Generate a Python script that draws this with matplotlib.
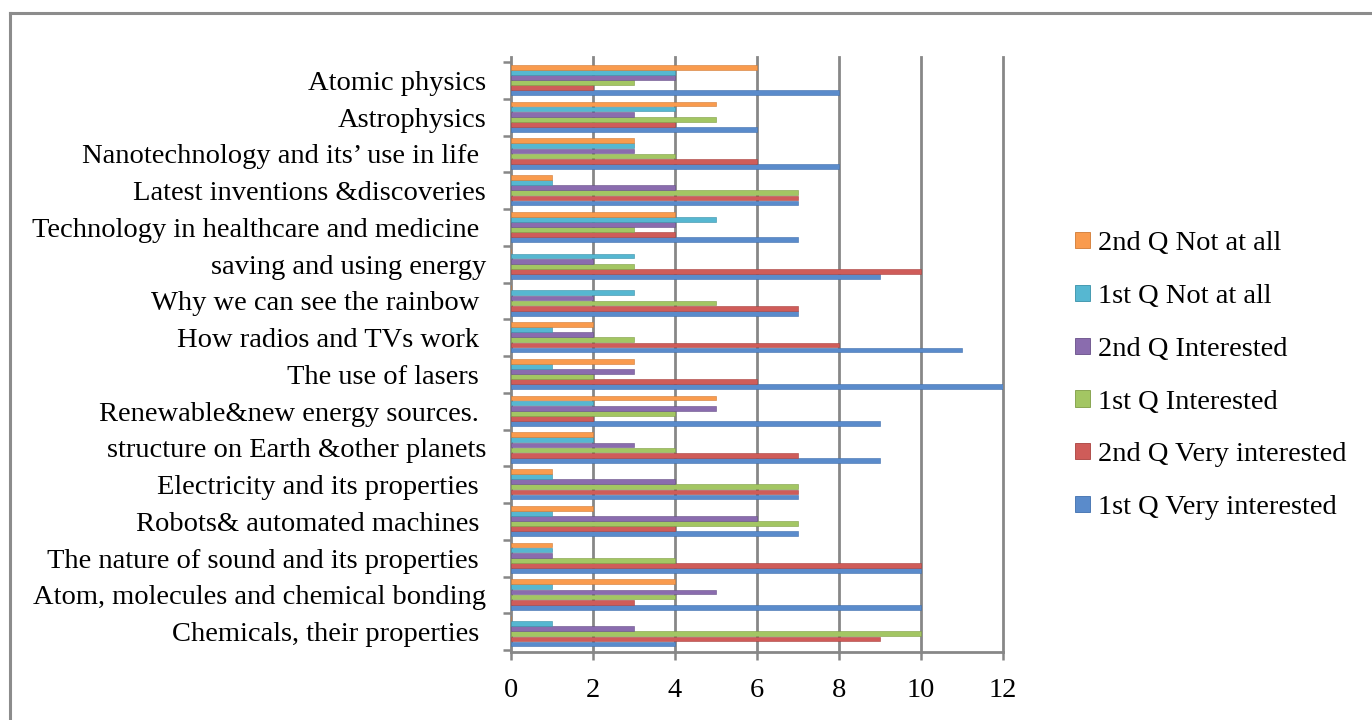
import matplotlib
matplotlib.use("Agg")
import matplotlib.pyplot as plt
import numpy as np
from matplotlib.lines import Line2D

# topics, bottom of the chart first
topics = [
    "Chemicals, their properties ",
    "Atom, molecules and chemical bonding",
    "The nature of sound and its properties ",
    "Robots& automated machines ",
    "Electricity and its properties ",
    "structure on Earth &other planets",
    "Renewable&new energy sources. ",
    "The use of lasers ",
    "How radios and TVs work ",
    "Why we can see the rainbow ",
    "saving and using energy",
    "Technology in healthcare and medicine ",
    "Latest inventions &discoveries",
    "Nanotechnology and its\u2019 use in life ",
    "Astrophysics",
    "Atomic physics",
]

q1_very = [4, 10, 10, 7, 7, 9, 9, 12, 11, 7, 9, 7, 7, 8, 6, 8]
q2_very = [9, 3, 10, 4, 7, 7, 2, 6, 8, 7, 10, 4, 7, 6, 4, 2]
q1_interested = [10, 4, 4, 7, 7, 4, 4, 2, 3, 5, 3, 3, 7, 4, 5, 3]
q2_interested = [3, 5, 1, 6, 4, 3, 5, 3, 2, 2, 2, 4, 4, 3, 3, 4]
q1_not = [1, 1, 1, 1, 1, 2, 2, 1, 1, 3, 3, 5, 1, 3, 4, 4]
q2_not = [0, 4, 1, 2, 1, 2, 5, 3, 2, 0, 0, 4, 1, 3, 5, 6]

series_names = ["1st Q Very interested", "2nd Q Very interested", "1st Q Interested",
                "2nd Q Interested", "1st Q Not at all", "2nd Q Not at all"]
x_ticks = [0, 2, 4, 6, 8, 10, 12]

series = [q1_very, q2_very, q1_interested, q2_interested, q1_not, q2_not]
base_cols = ["#5a8bcb", "#cf5c59", "#a3c663", "#8a6cae", "#56b7d1", "#f99b4e"]
edge_cols = ["#3f6fae", "#a8413e", "#7e9c44", "#674f88", "#3790a8", "#d07a34"]

FONT = "Liberation Serif"
FS = 20.5
W, H = 1372, 720
fig = plt.figure(figsize=(W / 100, H / 100), dpi=100)

def fx(px):
    return px / W

def fy(py):
    return 1 - py / H

# outer frame, runs off the right and bottom edges
frame = "#8c8c8c"
fig.add_artist(Line2D([fx(10), 1.0], [fy(13), fy(13)], color=frame, lw=2.2))
fig.add_artist(Line2D([fx(10), fx(10)], [fy(13), 0.0], color=frame, lw=2.2))

ax = fig.add_axes([fx(511), fy(652), fx(1003) - fx(511), fy(57) - fy(652)])

y = np.arange(len(topics))
h = 0.13
step = 0.139
for k, vals in enumerate(series):
    off = (k - 2.5) * step + 0.01
    ax.barh(y + off, vals, height=h, color=base_cols[k], edgecolor=edge_cols[k],
            linewidth=0.4, zorder=3)

ax.set_xlim(0, 12)
ax.set_ylim(-0.554, 15.636)

grid = "#878787"
for t in x_ticks[1:]:
    ax.axvline(t, color=grid, lw=2.0, zorder=1, clip_on=False)

for s in ["top", "right"]:
    ax.spines[s].set_visible(False)
for s in ["left", "bottom"]:
    ax.spines[s].set_color(grid)
    ax.spines[s].set_linewidth(2.0)

ax.set_xticks(x_ticks)
ax.set_xticklabels([str(t) for t in x_ticks], fontsize=FS, fontfamily=FONT)
ax.tick_params(axis="x", length=6, width=1.8, color=grid, pad=12.5)

ax.set_yticks(y)
ax.set_yticklabels(topics, fontsize=FS, fontfamily=FONT)
ax.set_yticks(np.arange(len(topics) + 1) - 0.5, minor=True)
ax.tick_params(axis="y", which="major", length=0, pad=18)
ax.tick_params(axis="y", which="minor", length=6, width=1.8, color=grid)

handles = [plt.Rectangle((0, 0), 1, 1, facecolor=base_cols[k], edgecolor=edge_cols[k], lw=0.6)
           for k in range(len(series))][::-1]
leg = fig.legend(handles, series_names[::-1], loc="upper left",
                 bbox_to_anchor=(fx(1064), fy(220)), frameon=False,
                 prop={"family": FONT, "size": FS}, handlelength=0.5, handleheight=0.5,
                 handletextpad=0.3, labelspacing=0.975, borderaxespad=0)

fig.savefig("out.png", dpi=100)
